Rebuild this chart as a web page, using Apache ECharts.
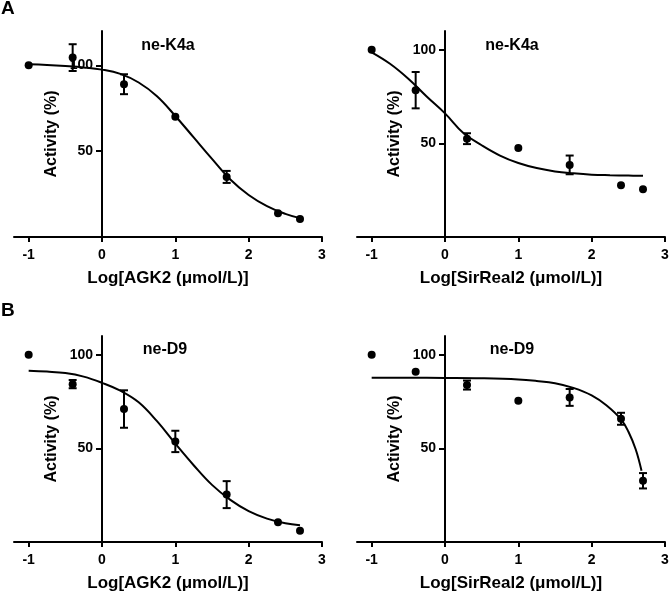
<!DOCTYPE html>
<html>
<head>
<meta charset="utf-8">
<style>html,body{margin:0;padding:0;background:#fff}#c{width:669px;height:591px}</style>
<script src="https://cdn.jsdelivr.net/npm/echarts@6/dist/echarts.min.js"></script>
</head>
<body>
<div id="c"></div>
<script>
// ---- data ----
const xTicks = [-1, 0, 1, 2, 3];
const yTicks = [50, 100];
const doses = [-1, -0.4, 0.3, 1, 1.7, 2.4, 2.7];

const agk2K4aMean = [100, 104.5, 89, 70, 35, 13.8, 10.5];
const agk2K4aErr  = [0, 7.8, 5.8, 0, 3.5, 0, 0];
const agk2K4aFitX = [-1, -0.75, -0.5, -0.25, 0, 0.25, 0.5, 0.75, 1, 1.25, 1.5, 1.75, 2, 2.25, 2.5, 2.7];
const agk2K4aFitY = [100.6, 100.2, 99.6, 98.8, 97.5, 95, 90, 82, 70.5, 58, 45.5, 33.5, 24.5, 18, 13.5, 11];

const sir2K4aMean = [100, 78.4, 52.5, 47.5, 38.5, 27.7, 25.5];
const sir2K4aErr  = [0, 9.7, 2.9, 0, 5, 0, 0];
const sir2K4aFitX = [-1, -0.75, -0.5, -0.25, 0, 0.25, 0.5, 0.75, 1, 1.25, 1.5, 1.75, 2, 2.25, 2.5, 2.7];
const sir2K4aFitY = [98.6, 92.5, 84.5, 75, 66, 55.5, 49, 43.5, 39.5, 36.8, 35, 34, 33.3, 33, 32.8, 32.7];

const agk2D9Mean = [100, 84.3, 71, 53.7, 25.3, 10.5, 6.0];
const agk2D9Err  = [0, 2.2, 10, 5.7, 7.2, 0, 0];
const agk2D9FitX = [-1, -0.75, -0.5, -0.25, 0, 0.25, 0.5, 0.75, 1, 1.25, 1.5, 1.75, 2, 2.25, 2.5, 2.7];
const agk2D9FitY = [91.5, 91, 90.2, 88.3, 85, 80.8, 74.6, 64.5, 52.5, 41, 30.5, 22.5, 16.5, 12.5, 10, 9];

const sir2D9Mean = [100, 90.9, 83.8, 75.4, 77.2, 65.8, 32.7];
const sir2D9Err  = [0, 0, 2.4, 0, 4.5, 3.2, 4.1];
const sir2D9FitX = [-1, -0.5, 0, 0.5, 1, 1.25, 1.5, 1.75, 2, 2.2, 2.4, 2.5, 2.6, 2.68];
const sir2D9FitY = [87.7, 87.7, 87.6, 87.4, 86.8, 86, 84.8, 82.3, 78.3, 73, 65.5, 59, 49.5, 38];

const panels = [
  {title: 'ne-K4a', xName: 'Log[AGK2 (\u03bcmol/L)]', yMax: 120, mean: agk2K4aMean, err: agk2K4aErr, fx: agk2K4aFitX, fy: agk2K4aFitY},
  {title: 'ne-K4a', xName: 'Log[SirReal2 (\u03bcmol/L)]', yMax: 110, mean: sir2K4aMean, err: sir2K4aErr, fx: sir2K4aFitX, fy: sir2K4aFitY},
  {title: 'ne-D9', xName: 'Log[AGK2 (\u03bcmol/L)]', yMax: 110, mean: agk2D9Mean, err: agk2D9Err, fx: agk2D9FitX, fy: agk2D9FitY},
  {title: 'ne-D9', xName: 'Log[SirReal2 (\u03bcmol/L)]', yMax: 110, mean: sir2D9Mean, err: sir2D9Err, fx: sir2D9FitX, fy: sir2D9FitY}
];

// ---- layout ----
const FONT = '"Liberation Sans", Arial, sans-serif';
const X_MIN = -1.2, X_MAX = 3, GRID_W = 308;
const grids = [
  {left: 14, width: GRID_W, top: 31, height: 206},
  {left: 357, width: GRID_W, top: 31, height: 206},
  {left: 14, width: GRID_W, top: 336, height: 206},
  {left: 357, width: GRID_W, top: 336, height: 206}
].map(g => Object.assign(g, {containLabel: false, outerBoundsMode: 'none'}));
// shift the y axis (line, ticks, labels, name) to x = 0
const yOffset = -(0 - X_MIN) / (X_MAX - X_MIN) * GRID_W;
const titlePos = [[168, 46], [512, 46], [165, 350], [512, 350]];
const axisLineStyle = {color: '#000', width: 2};

const xAxes = [], yAxes = [], series = [], graphics = [];
panels.forEach((p, i) => {
  xAxes.push({
    type: 'value', gridIndex: i, min: X_MIN, max: X_MAX,
    name: p.xName, nameLocation: 'middle', nameGap: 33,
    nameTextStyle: {fontFamily: FONT, fontWeight: 'bold', fontSize: 17, color: '#000'},
    axisLine: {show: true, onZero: false, lineStyle: axisLineStyle},
    axisTick: {show: true, customValues: xTicks, length: 5, lineStyle: axisLineStyle},
    axisLabel: {customValues: xTicks, margin: 11, fontFamily: FONT, fontWeight: 'bold', fontSize: 14, color: '#000'},
    splitLine: {show: false}
  });
  yAxes.push({
    type: 'value', gridIndex: i, min: 0, max: p.yMax, offset: yOffset,
    name: 'Activity (%)', nameLocation: 'middle', nameGap: 42,
    nameTextStyle: {fontFamily: FONT, fontWeight: 'bold', fontSize: 16, color: '#000'},
    axisLine: {show: true, onZero: false, lineStyle: axisLineStyle},
    axisTick: {show: true, customValues: yTicks, length: 6, lineStyle: axisLineStyle},
    axisLabel: {customValues: yTicks, margin: 9, fontFamily: FONT, fontWeight: 'bold', fontSize: 14, color: '#000'},
    splitLine: {show: false}
  });
  series.push({
    type: 'line', xAxisIndex: i, yAxisIndex: i,
    data: p.fx.map((x, k) => [x, p.fy[k]]),
    smooth: 0.4, showSymbol: false, symbol: 'none',
    lineStyle: {color: '#000', width: 2}, z: 2, silent: true
  });
  series.push({
    type: 'custom', xAxisIndex: i, yAxisIndex: i,
    data: doses.map((x, k) => [x, p.mean[k], p.err[k]]),
    renderItem: function (params, api) {
      const x = api.value(0), y = api.value(1), e = api.value(2);
      if (!e) return null;
      const t = api.coord([x, y + e]), b = api.coord([x, y - e]);
      const hw = 4;
      const st = {stroke: '#000', lineWidth: 2};
      return {type: 'group', children: [
        {type: 'line', shape: {x1: t[0], y1: t[1], x2: b[0], y2: b[1]}, style: st},
        {type: 'line', shape: {x1: t[0] - hw, y1: t[1], x2: t[0] + hw, y2: t[1]}, style: st},
        {type: 'line', shape: {x1: b[0] - hw, y1: b[1], x2: b[0] + hw, y2: b[1]}, style: st}
      ]};
    },
    z: 3, silent: true
  });
  series.push({
    type: 'scatter', xAxisIndex: i, yAxisIndex: i,
    data: doses.map((x, k) => [x, p.mean[k]]),
    symbol: 'circle', symbolSize: 8,
    itemStyle: {color: '#000', opacity: 1}, z: 4, silent: true
  });
  graphics.push({
    type: 'text', x: titlePos[i][0], y: titlePos[i][1],
    style: {text: p.title, fontFamily: FONT, fontWeight: 'bold', fontSize: 16, fill: '#000', align: 'center', verticalAlign: 'middle'}
  });
});
graphics.push({type: 'text', x: 1, y: 9, style: {text: 'A', fontFamily: FONT, fontWeight: 'bold', fontSize: 19, fill: '#000', verticalAlign: 'middle'}});
graphics.push({type: 'text', x: 1, y: 311, style: {text: 'B', fontFamily: FONT, fontWeight: 'bold', fontSize: 19, fill: '#000', verticalAlign: 'middle'}});

const chart = echarts.init(document.getElementById('c'), null, {renderer: 'canvas'});
chart.setOption({
  backgroundColor: '#fff',
  animation: false,
  grid: grids,
  xAxis: xAxes,
  yAxis: yAxes,
  series: series,
  graphic: graphics
});
</script>
</body>
</html>
